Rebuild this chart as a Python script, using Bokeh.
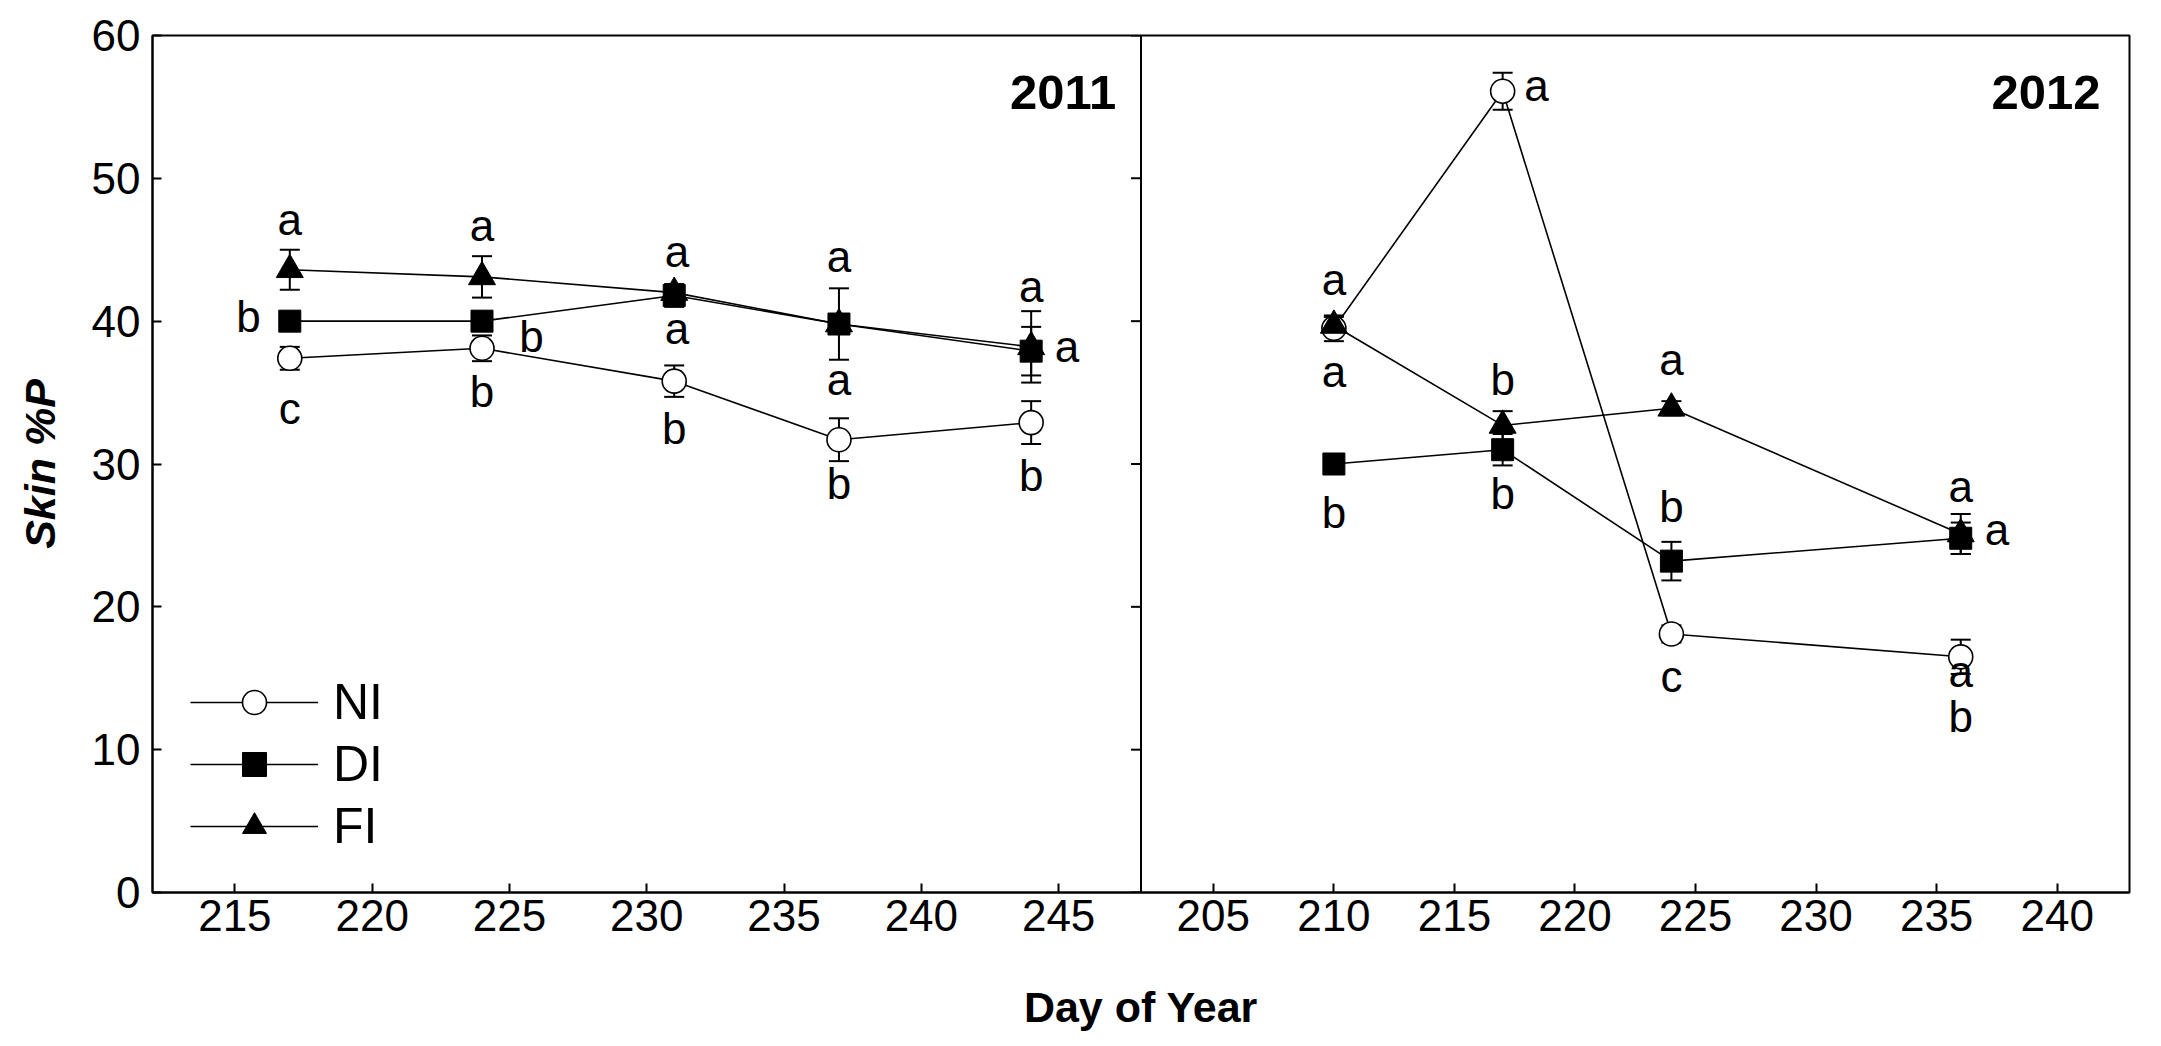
import math
from bokeh.plotting import figure
from bokeh.models import (Range1d, FixedTicker, ColumnDataSource, Whisker, TeeHead, Label,
                          Legend, LegendItem, Span, CustomJSTickFormatter)
from bokeh.core.properties import value
from bokeh.embed import file_html
from bokeh.resources import INLINE

FONT = "Liberation Sans"

# ---------------- data ----------------
days_2011 = [217, 224, 231, 237, 244]
ni_2011 = [37.4, 38.1, 35.8, 31.7, 32.9]
ni_2011_err = [0.8, 0.9, 1.1, 1.5, 1.5]
di_2011 = [40.0, 40.0, 41.8, 39.8, 37.9]
di_2011_err = [0.3, 0.3, 0.8, 2.5, 1.7]
fi_2011 = [43.6, 43.1, 42.0, 39.8, 38.2]
fi_2011_err = [1.4, 1.45, 0.5, 0.4, 2.5]

days_2012 = [210, 217, 224, 236]
ni_2012 = [39.5, 56.1, 18.1, 16.5]
ni_2012_err = [0.9, 1.3, 0.6, 1.2]
di_2012 = [30.0, 31.0, 23.2, 24.8]
di_2012_err = [0.3, 1.1, 1.35, 1.1]
fi_2012 = [39.7, 32.7, 33.9, 25.1]
fi_2012_err = [0.6, 1.0, 0.5, 1.4]

# significance letters
let_2011_text = ["a", "b", "c", "a", "b", "b", "a", "a", "b", "a", "a", "b", "a", "a", "b"]
let_2011_x = [217, 215.5, 217, 224, 225.8, 224, 231.1, 231.1, 231, 237, 237, 237, 244, 245.3, 244]
let_2011_y = [47.1, 40.3, 33.9, 46.7, 38.9, 35.1, 44.9, 39.5, 32.5, 44.5, 35.9, 28.6, 42.4, 38.2, 29.2]

let_2012_text = ["a", "a", "b", "a", "b", "b", "a", "b", "c", "a", "a", "a", "b"]
let_2012_x = [210, 210, 210, 218.4, 217, 217, 224, 224, 224, 236, 237.5, 236, 236]
let_2012_y = [42.9, 36.5, 26.6, 56.5, 35.9, 27.9, 37.3, 27.0, 15.1, 28.4, 25.4, 15.5, 12.3]

x_ticks_2011 = [215, 220, 225, 230, 235, 240, 245]
x_ticks_2012 = [205, 210, 215, 220, 225, 230, 235, 240]
y_ticks = [0, 10, 20, 30, 40, 50, 60]

series_names = ["NI", "DI", "FI"]
panel_titles = ["2011", "2012"]

# panel extents (day of year)
L_START, L_END = 212, 248      # 2011 panel
R_START, R_END = 202, 243      # 2012 panel

# ---------------- figure: two equal panels sharing one frame ----------------
x_main = Range1d(L_START, L_END + (L_END - L_START))
x_r = Range1d(R_START - (R_END - R_START), R_END)

p = figure(width=2141, height=1044, x_range=x_main, y_range=Range1d(0, 60),
           output_backend="svg", toolbar_location=None,
           min_border_left=152, min_border_right=12, min_border_top=35, min_border_bottom=152)
p.extra_x_ranges = {"r": x_r}
p.xgrid.visible = False
p.ygrid.visible = False
p.outline_line_color = "black"
p.outline_line_width = 2
p.background_fill_color = "white"
p.border_fill_color = "white"

# ---- x axis: ticks for both panels on the shared bottom line
def to_main(v):
    return x_main.start + (v - x_r.start) * (x_main.end - x_main.start) / (x_r.end - x_r.start)

xa = p.xaxis[0]
xa.ticker = FixedTicker(ticks=x_ticks_2011 + [to_main(v) for v in x_ticks_2012])
xa.formatter = CustomJSTickFormatter(
    args=dict(m=x_main, r=x_r, div=L_END),
    code="""
    if (tick <= div + 1e-6) { return tick.toFixed(0); }
    const v = r.start + (tick - m.start) * (r.end - r.start) / (m.end - m.start);
    return Math.round(v).toFixed(0);
    """)
ya = p.yaxis[0]
ya.ticker = FixedTicker(ticks=y_ticks)
for ax in (xa, ya):
    ax.major_tick_in = 9
    ax.major_tick_out = 0
    ax.minor_tick_in = 0
    ax.minor_tick_out = 0
    ax.major_tick_line_width = 2
    ax.major_tick_line_color = "black"
    ax.axis_line_width = 2
    ax.axis_line_color = "black"
    ax.major_label_text_font = FONT
    ax.major_label_text_font_size = "44px"
    ax.major_label_text_color = "black"
    ax.axis_label_text_font = FONT
    ax.axis_label_text_font_size = "43px"
    ax.axis_label_text_color = "black"

xa.major_label_standoff = 7
xa.axis_label = "Day of Year"
xa.axis_label_text_font_style = "bold"
xa.axis_label_standoff = 49

ya.major_label_standoff = 12
ya.axis_label = "Skin %P"
ya.axis_label_text_font_style = "bold italic"
ya.axis_label_standoff = 25

# ---- divider between the panels, with inward ticks of the 2011 panel
p.add_layout(Span(location=L_END, dimension="height", line_color="black", line_width=2))
p.ray(x=[L_END] * len(y_ticks), y=y_ticks, length=10, length_units="screen",
      angle=math.pi, line_color="black", line_width=2)


def draw_series(days, ni, ni_e, di, di_e, fi, fi_e, rname="default"):
    rend = {}
    data = [("NI", ni, ni_e), ("FI", fi, fi_e), ("DI", di, di_e)]
    for name, vals, errs in data:
        src = ColumnDataSource(dict(x=days, y=vals,
                                    upper=[v + e for v, e in zip(vals, errs)],
                                    lower=[v - e for v, e in zip(vals, errs)]))
        w = Whisker(source=src, base="x", upper="upper", lower="lower",
                    dimension="height", line_width=2, line_color="black",
                    x_range_name=rname,
                    upper_head=TeeHead(size=20, line_width=2, line_color="black"),
                    lower_head=TeeHead(size=20, line_width=2, line_color="black"))
        p.add_layout(w)
        lr = p.line("x", "y", source=src, line_color="black", line_width=1.6,
                    x_range_name=rname)
        if name == "NI":
            sr = p.scatter("x", "y", source=src, marker="circle", size=24,
                           fill_color="white", line_color="black", line_width=1.6,
                           x_range_name=rname)
        elif name == "DI":
            sr = p.scatter("x", "y", source=src, marker="square", size=22,
                           fill_color="black", line_color="black", line_width=1,
                           x_range_name=rname)
        else:
            sr = p.scatter("x", "y", source=src, marker="triangle", size=27,
                           fill_color="black", line_color="black", line_width=1,
                           x_range_name=rname)
        rend[name] = (lr, sr)
    return rend


# ---------------- 2011 panel ----------------
rL = draw_series(days_2011, ni_2011, ni_2011_err, di_2011, di_2011_err, fi_2011, fi_2011_err)
p.text(x=let_2011_x, y=let_2011_y, text=let_2011_text, text_font=value(FONT),
       text_font_size="44px", text_align="center", text_baseline="middle", text_color="black")
p.add_layout(Label(x=247.1, y=56.0, text=panel_titles[0], text_align="right",
                   text_baseline="middle", text_font=FONT, text_font_style="bold",
                   text_font_size="49px", text_color="black"))

# ---------------- 2012 panel ----------------
draw_series(days_2012, ni_2012, ni_2012_err, di_2012, di_2012_err, fi_2012, fi_2012_err,
            rname="r")
p.text(x=let_2012_x, y=let_2012_y, text=let_2012_text, text_font=value(FONT),
       text_font_size="44px", text_align="center", text_baseline="middle", text_color="black",
       x_range_name="r")
p.add_layout(Label(x=241.8, y=56.0, x_range_name="r", text=panel_titles[1], text_align="right",
                   text_baseline="middle", text_font=FONT, text_font_style="bold",
                   text_font_size="49px", text_color="black"))

# ---------------- legend ----------------
legend = Legend(items=[LegendItem(label=n, renderers=list(rL[n])) for n in series_names],
                location=(38, 36), glyph_width=128, glyph_height=60, label_height=60,
                spacing=2, padding=0, margin=0, label_standoff=15,
                label_text_font=FONT, label_text_font_size="50px", label_text_color="black",
                border_line_alpha=0, background_fill_alpha=0)
p.add_layout(legend)

open("out.html", "w").write(file_html(p, INLINE))
